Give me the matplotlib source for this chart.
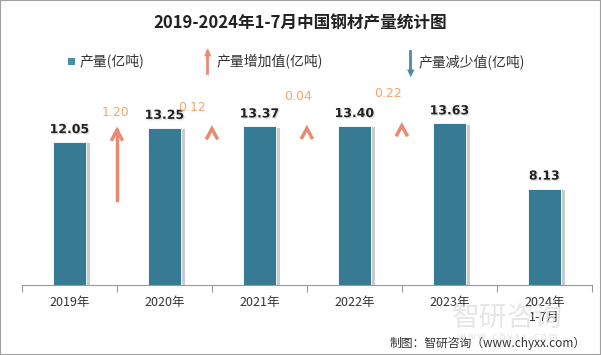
import matplotlib
matplotlib.use("Agg")
import matplotlib.pyplot as plt
import matplotlib.patheffects as pe
from matplotlib.patches import Rectangle

plt.rcParams['font.family'] = ['Noto Sans CJK SC', 'DejaVu Sans']

years = ["2019年", "2020年", "2021年", "2022年", "2023年", "2024年\n1-7月"]
output = [12.05, 13.25, 13.37, 13.40, 13.63, 8.13]
increase = [1.20, 0.12, 0.04, 0.22]

bar_color = "#367b93"
up_color = "#ea8a74"
txt_orange = "#f4a66b"

fig = plt.figure(figsize=(6.01, 3.55), dpi=100)
fig.add_artist(Rectangle((0, 0), 1, 1, transform=fig.transFigure, fill=False,
                         edgecolor="#a0a0a0", linewidth=1.5))

ax = fig.add_axes([0.0366, 0.197, 0.948, 0.535])
x = list(range(len(years)))
bars = ax.bar(x, output, width=0.35, color=bar_color, edgecolor="white", linewidth=0.6)
for b in bars:
    b.set_path_effects([pe.SimplePatchShadow(offset=(3, -1), shadow_rgbFace="#999999", alpha=0.5),
                        pe.Normal()])

for i, v in enumerate(output):
    ax.text(i, v + 0.5, f"{v:.2f}", ha="center", va="bottom", fontsize=9,
            fontweight="bold", color="#222222", family="DejaVu Sans",
            path_effects=[pe.withSimplePatchShadow(offset=(1, -1), shadow_rgbFace="#cccccc", alpha=0.6)])

# increase arrows between bars
lbl_off = [(-0.02, 1.25), (-0.21, 1.6), (-0.09, 2.5), (-0.15, 2.5)]
for i, d in enumerate(increase):
    top = output[i + 1] - 0.1
    xc = i + 0.5
    if d > 0.5:
        ax.plot([xc, xc], [top - d * 5, top - 0.1], color=up_color, lw=2.5)
    # chevron head
    ax.plot([xc - 0.06, xc, xc + 0.06], [top - 1.0, top - 0.1, top - 1.0],
            color=up_color, lw=2.5, solid_capstyle="butt", solid_joinstyle="miter")
    dx, dy = lbl_off[i]
    ax.text(xc + dx, output[i + 1] + dy, f"{d:.2f}", ha="center", va="center",
            fontsize=9, color=txt_orange, family="DejaVu Sans")

ax.set_xlim(-0.5, 5.5)
ax.set_ylim(0, 16)
ax.set_yticks([])
ax.set_xticks([i - 0.5 for i in range(len(years) + 1)])
ax.set_xticklabels([])
ax.set_xticks(x, minor=True)
ax.set_xticklabels(years, minor=True, fontsize=9, color="#333333")
ax.tick_params(axis="x", which="major", length=5, color="#999999")
ax.tick_params(axis="x", which="minor", length=0, pad=8)
for s in ["top", "left", "right"]:
    ax.spines[s].set_visible(False)
ax.spines["bottom"].set_color("#999999")

fig.text(0.5, 0.935, "2019-2024年1-7月中国钢材产量统计图", ha="center", va="center",
         fontsize=12, fontweight="bold", color="#222222")

# legend
fig.add_artist(Rectangle((0.113, 0.818), 0.012, 0.02, transform=fig.transFigure,
                         facecolor="#4a8ea6", edgecolor="none"))
fig.text(0.133, 0.83, "产量(亿吨)", fontsize=10, va="center", color="#333333")
fig.add_artist(plt.Line2D([0.345, 0.345], [0.795, 0.855], transform=fig.transFigure,
                          color=up_color, lw=2))
fig.text(0.345, 0.84, "▲", fontsize=7, ha="center", va="bottom", color=up_color, family="DejaVu Sans")
fig.text(0.36, 0.825, "产量增加值(亿吨)", fontsize=10, va="center", color="#333333")
fig.add_artist(plt.Line2D([0.683, 0.683], [0.80, 0.855], transform=fig.transFigure,
                          color="#4a8ea6", lw=2))
fig.text(0.683, 0.81, "▼", fontsize=7, ha="center", va="top", color="#4a8ea6", family="DejaVu Sans")
fig.text(0.697, 0.825, "产量减少值(亿吨)", fontsize=10, va="center", color="#333333")

# watermark (faint, behind)
fig.text(0.845, 0.105, "智研咨询", fontsize=20, ha="center", va="center", color="#dcdcdc",
         alpha=0.7, zorder=0)
fig.text(0.845, 0.05, "w w w . c h y x x . c o m", fontsize=7, ha="center", va="center",
         color="#d5d5d5", alpha=0.7, zorder=0)

fig.text(0.975, 0.033, "制图：智研咨询（www.chyxx.com）", fontsize=8.5, ha="right",
         va="center", color="#333333")

fig.savefig("out.png", dpi=100)
